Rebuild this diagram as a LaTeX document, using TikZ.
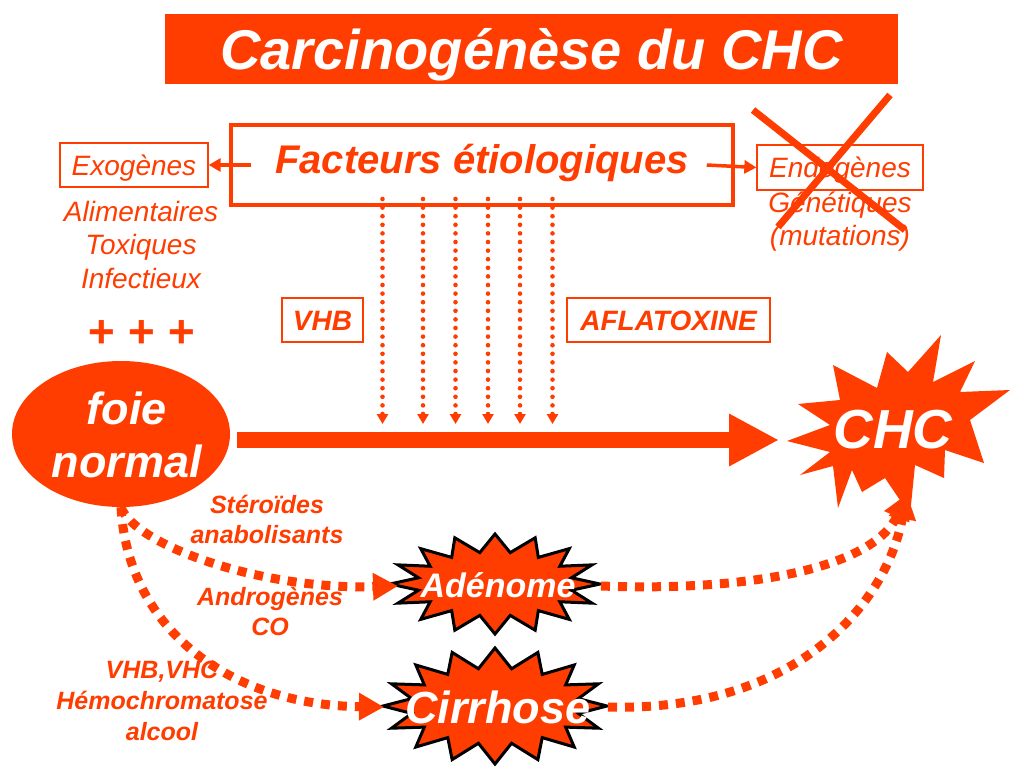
\documentclass[tikz,border=0pt]{standalone}
\usepackage{fontspec}
\setmainfont{Liberation Sans}
\usetikzlibrary{arrows.meta,shapes.geometric}
\definecolor{fire}{RGB}{255,61,0}
\newcommand\labstack[1]{\begin{tabular}[t]{@{}c@{}}#1\end{tabular}}
\begin{document}
\begin{tikzpicture}[x=1pt,y=-1pt,
  lab/.style={inner sep=0pt, anchor=base, text=fire},
  itf/.style={font=\fontsize{28}{33.5}\selectfont\itshape},
  bif/.style={font=\fontsize{25}{30.5}\selectfont\bfseries\itshape},
  thinbox/.style={draw=fire, line width=1.3pt, inner sep=0pt, text=fire},
  smallarrow/.style={draw=fire, line width=3.5pt, -{Triangle[length=12pt,width=13pt]}},
  dotarrow/.style={draw=fire, line width=4.6pt, line cap=round, dash pattern=on 0pt off 8.6pt, -{Triangle[length=10pt,width=11pt]}},
  bigarrow/.style={draw=fire, line width=16pt, -{Triangle[length=50pt,width=49pt]}},
  dasharrow/.style={draw=fire, line width=9pt, dash pattern=on 9pt off 8pt, -{Triangle[length=25pt,width=26pt]}},
  burstline/.style={draw=black, fill=fire, line width=3pt, line join=miter},
  whitetxt/.style={inner sep=0pt, anchor=base, text=white, font=\bfseries\itshape},
  cross/.style={draw=fire, line width=7pt}
]
\useasboundingbox[fill=white] (0,0) rectangle (1024,768);

% title
\node[fill=fire, minimum width=733pt, minimum height=70pt, inner sep=0pt,
      text height=40pt, text depth=0pt, text=white,
      font=\fontsize{56}{60}\selectfont\bfseries\itshape] (title) at (531.5,49) {Carcinogénèse du CHC};

% factors box
\node[draw=fire, line width=3.5pt, minimum width=502pt, minimum height=80pt, inner sep=0pt,
      text height=28.6pt, text depth=12.6pt, text=fire,
      font=\fontsize{40}{44}\selectfont\bfseries\itshape] (fact) at (482,165) {Facteurs étiologiques};

\node[thinbox, minimum width=148pt, minimum height=44pt, text height=20pt, text depth=0pt, itf] (exo) at (134,165) {Exogènes};
\node[thinbox, minimum width=166pt, minimum height=45pt, text height=20pt, text depth=1pt, itf] (endo) at (840,167.5) {Endogènes};

\draw[smallarrow] ([xshift=22pt]fact.west) -- (exo.east);
\draw[smallarrow] ([xshift=-28pt]fact.east) -- (endo.west);

\node[lab, itf] (exolist) at (141,221) {\labstack{Alimentaires\\Toxiques\\Infectieux}};
\node[lab, font=\fontsize{46}{50}\selectfont\bfseries\itshape] (plus) at (141,347) {+ + +};
\node[lab, itf] (endolist) at (840,212) {\labstack{Génétiques\\(mutations)}};

\node[thinbox, minimum width=81pt, minimum height=44pt, text height=20pt, text depth=0pt,
      font=\fontsize{28}{32}\selectfont\bfseries\itshape] (vhb) at (322.5,320) {VHB};
\node[thinbox, minimum width=203pt, minimum height=44pt, text height=20pt, text depth=0pt,
      font=\fontsize{28}{32}\selectfont\bfseries\itshape] (afla) at (668.5,320) {AFLATOXINE};

% dotted arrows
\foreach \x [count=\i] in {382.5,423,455.5,488,520,552.5} {
  \coordinate (dtop\i) at (\x,199);
  \coordinate (dbot\i) at (\x,424);
  \draw[dotarrow] (dtop\i) -- (dbot\i);
}

% foie normal
\node[ellipse, fill=fire, minimum width=218pt, minimum height=146pt, inner sep=0pt,
      text=white, text height=33pt, text depth=53pt,
      font=\fontsize{45}{53}\selectfont\bfseries\itshape] (foie) at (121,434) {\hspace*{6pt}\labstack{foie\\normal}\hspace*{-6pt}};

% CHC star
\fill[fire] (787,441) -- (830,425) -- (798,404) -- (840,400) -- (833,365) -- (877,388)
  -- (887,352) -- (908,372) -- (941,335) -- (933,382) -- (975,361) -- (960,392)
  -- (1010,390) -- (970,420) -- (984,463) -- (945,450) -- (944,478) -- (915,465)
  -- (910,515) -- (885,478) -- (862,492) -- (852,470) -- (838,508) -- (833,466)
  -- (800,475) -- (830,452) -- cycle;
\node[whitetxt, font=\fontsize{55}{60}\selectfont\bfseries\itshape] (chc) at (893,448) {CHC};
\coordinate (chcL) at (779,440);
\coordinate (chcB) at (907,494);

\draw[bigarrow] (foie.east |- chcL) ++(7,0) -- (chcL);

% starbursts
\filldraw[burstline] plot[variable=\t, samples at={0,...,31}]
  ({495+(105-27*mod(\t,2))*cos(\t*11.25)}, {584+(50-18*mod(\t,2))*sin(\t*11.25)}) -- cycle;
\filldraw[burstline] plot[variable=\t, samples at={0,...,31}]
  ({495+(112-27*mod(\t,2))*cos(\t*11.25)}, {706+(58-20*mod(\t,2))*sin(\t*11.25)}) -- cycle;
\node[whitetxt, font=\fontsize{34}{38}\selectfont\bfseries\itshape] (adn) at (498,597) {Adénome};
\node[whitetxt, font=\fontsize{45}{50}\selectfont\bfseries\itshape] (cir) at (498,723) {Cirrhose};
\coordinate (adnW) at (398,586);
\coordinate (adnE) at (601,586);
\coordinate (cirW) at (384,707);
\coordinate (cirE) at (608,707);

% dashed curves
\draw[dasharrow] (foie.south) .. controls (135,545) and (260,590) .. (adnW);
\draw[dasharrow] (foie.south) .. controls (128,630) and (230,705) .. (cirW);
\draw[dasharrow] (adnE) .. controls (760,592) and (875,565) .. (chcB);
\draw[dasharrow] (cirE) .. controls (790,712) and (885,610) .. (chcB);

% side labels
\node[lab, bif] (ster) at (267,513) {\labstack{Stéroïdes\\anabolisants}};
\node[lab, bif] (andr) at (270,605) {\labstack{Androgènes\\CO}};
\node[lab, bif, font=\fontsize{25}{31}\selectfont\bfseries\itshape] (vir) at (162,678) {\labstack{VHB,VHC\\Hémochromatose\\alcool}};

% red cross over endogenous factors
\coordinate (xa1) at (753,110);
\coordinate (xb1) at (905,230);
\coordinate (xa2) at (890,95);
\coordinate (xb2) at (778,227);
\draw[cross] (xa1) -- (xb1);
\draw[cross] (xa2) -- (xb2);
\end{tikzpicture}
\end{document}
